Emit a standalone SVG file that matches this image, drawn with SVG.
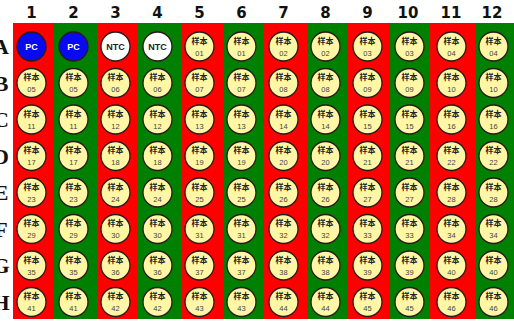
<svg xmlns="http://www.w3.org/2000/svg" width="514" height="323" viewBox="0 0 514 323">
<style>
.hd{font-family:"DejaVu Sans","Liberation Sans",sans-serif;font-weight:bold;font-size:15px;fill:#111;text-anchor:middle}
.rl{font-family:"Liberation Serif",serif;font-weight:bold;font-size:22px;fill:#111;text-anchor:middle}
.r{fill:#ff0000}.g{fill:#008000}
.s{fill:#fff6a6;stroke:#2a1a1a;stroke-width:1.3}
.pc{fill:#0a0af0;stroke:#2a1a1a;stroke-width:1.3}
.nt{fill:#ffffff;stroke:#2a1a1a;stroke-width:1.3}
.a{font-family:"Liberation Sans","Noto Sans CJK SC",sans-serif;font-weight:bold;font-size:8px;fill:#222;text-anchor:middle}
.n{font-family:"Liberation Sans",sans-serif;font-size:7.5px;fill:#444;text-anchor:middle}
.pt{font-family:"Liberation Sans",sans-serif;font-weight:bold;font-size:9px;fill:#fff;text-anchor:middle}
.ntt{font-family:"Liberation Sans",sans-serif;font-weight:bold;font-size:9px;fill:#222;text-anchor:middle}
</style>
<rect width="514" height="323" fill="#ffffff"/>
<g id="headers">
<text class="hd" x="31.5" y="18">1</text><text class="hd" x="73.5" y="18">2</text><text class="hd" x="115.5" y="18">3</text><text class="hd" x="157.5" y="18">4</text><text class="hd" x="199.5" y="18">5</text><text class="hd" x="241.5" y="18">6</text><text class="hd" x="283.5" y="18">7</text><text class="hd" x="325.5" y="18">8</text><text class="hd" x="367.5" y="18">9</text><text class="hd" x="408" y="18">10</text><text class="hd" x="451" y="18">11</text><text class="hd" x="492" y="18">12</text>
</g>
<g id="rowlabels">
<text class="rl" x="1" y="54">A</text><text class="rl" x="1" y="91">B</text><text class="rl" x="1" y="127">C</text><text class="rl" x="1" y="164">D</text><text class="rl" x="1" y="200">E</text><text class="rl" x="1" y="237">F</text><text class="rl" x="1" y="273">G</text><text class="rl" x="1" y="310">H</text>
</g>
<g id="plate">
<rect class="r" x="13" y="23" width="40" height="296"/>
<rect class="g" x="53" y="23" width="44" height="296"/>
<rect class="r" x="97" y="23" width="41" height="296"/>
<rect class="g" x="138" y="23" width="43" height="296"/>
<rect class="r" x="181" y="23" width="42" height="296"/>
<rect class="g" x="223" y="23" width="41" height="296"/>
<rect class="r" x="264" y="23" width="43" height="296"/>
<rect class="g" x="307" y="23" width="41" height="296"/>
<rect class="r" x="348" y="23" width="41" height="296"/>
<rect class="g" x="389" y="23" width="41" height="296"/>
<rect class="r" x="430" y="23" width="45" height="296"/>
<rect class="g" x="475" y="23" width="39" height="296"/>
</g>
<g id="A1" transform="translate(31.5,46.5)"><circle class="pc" r="14.5"/><text class="pt" y="3.2">PC</text></g>
<g id="A2" transform="translate(73.5,46.5)"><circle class="pc" r="14.5"/><text class="pt" y="3.2">PC</text></g>
<g id="A3" transform="translate(115.5,46.5)"><circle class="nt" r="14.5"/><text class="ntt" y="3.2">NTC</text></g>
<g id="A4" transform="translate(157.5,46.5)"><circle class="nt" r="14.5"/><text class="ntt" y="3.2">NTC</text></g>
<g id="A5" transform="translate(199.5,46.5)"><circle class="s" r="14.5"/><text class="a" y="-3">样本</text><text class="n" y="9.3">01</text></g>
<g id="A6" transform="translate(241.5,46.5)"><circle class="s" r="14.5"/><text class="a" y="-3">样本</text><text class="n" y="9.3">01</text></g>
<g id="A7" transform="translate(283.5,46.5)"><circle class="s" r="14.5"/><text class="a" y="-3">样本</text><text class="n" y="9.3">02</text></g>
<g id="A8" transform="translate(325.5,46.5)"><circle class="s" r="14.5"/><text class="a" y="-3">样本</text><text class="n" y="9.3">02</text></g>
<g id="A9" transform="translate(367.5,46.5)"><circle class="s" r="14.5"/><text class="a" y="-3">样本</text><text class="n" y="9.3">03</text></g>
<g id="A10" transform="translate(409.5,46.5)"><circle class="s" r="14.5"/><text class="a" y="-3">样本</text><text class="n" y="9.3">03</text></g>
<g id="A11" transform="translate(451.5,46.5)"><circle class="s" r="14.5"/><text class="a" y="-3">样本</text><text class="n" y="9.3">04</text></g>
<g id="A12" transform="translate(493.5,46.5)"><circle class="s" r="14.5"/><text class="a" y="-3">样本</text><text class="n" y="9.3">04</text></g>
<g id="B1" transform="translate(31.5,83)"><circle class="s" r="14.5"/><text class="a" y="-3">样本</text><text class="n" y="9.3">05</text></g>
<g id="B2" transform="translate(73.5,83)"><circle class="s" r="14.5"/><text class="a" y="-3">样本</text><text class="n" y="9.3">05</text></g>
<g id="B3" transform="translate(115.5,83)"><circle class="s" r="14.5"/><text class="a" y="-3">样本</text><text class="n" y="9.3">06</text></g>
<g id="B4" transform="translate(157.5,83)"><circle class="s" r="14.5"/><text class="a" y="-3">样本</text><text class="n" y="9.3">06</text></g>
<g id="B5" transform="translate(199.5,83)"><circle class="s" r="14.5"/><text class="a" y="-3">样本</text><text class="n" y="9.3">07</text></g>
<g id="B6" transform="translate(241.5,83)"><circle class="s" r="14.5"/><text class="a" y="-3">样本</text><text class="n" y="9.3">07</text></g>
<g id="B7" transform="translate(283.5,83)"><circle class="s" r="14.5"/><text class="a" y="-3">样本</text><text class="n" y="9.3">08</text></g>
<g id="B8" transform="translate(325.5,83)"><circle class="s" r="14.5"/><text class="a" y="-3">样本</text><text class="n" y="9.3">08</text></g>
<g id="B9" transform="translate(367.5,83)"><circle class="s" r="14.5"/><text class="a" y="-3">样本</text><text class="n" y="9.3">09</text></g>
<g id="B10" transform="translate(409.5,83)"><circle class="s" r="14.5"/><text class="a" y="-3">样本</text><text class="n" y="9.3">09</text></g>
<g id="B11" transform="translate(451.5,83)"><circle class="s" r="14.5"/><text class="a" y="-3">样本</text><text class="n" y="9.3">10</text></g>
<g id="B12" transform="translate(493.5,83)"><circle class="s" r="14.5"/><text class="a" y="-3">样本</text><text class="n" y="9.3">10</text></g>
<g id="C1" transform="translate(31.5,119.5)"><circle class="s" r="14.5"/><text class="a" y="-3">样本</text><text class="n" y="9.3">11</text></g>
<g id="C2" transform="translate(73.5,119.5)"><circle class="s" r="14.5"/><text class="a" y="-3">样本</text><text class="n" y="9.3">11</text></g>
<g id="C3" transform="translate(115.5,119.5)"><circle class="s" r="14.5"/><text class="a" y="-3">样本</text><text class="n" y="9.3">12</text></g>
<g id="C4" transform="translate(157.5,119.5)"><circle class="s" r="14.5"/><text class="a" y="-3">样本</text><text class="n" y="9.3">12</text></g>
<g id="C5" transform="translate(199.5,119.5)"><circle class="s" r="14.5"/><text class="a" y="-3">样本</text><text class="n" y="9.3">13</text></g>
<g id="C6" transform="translate(241.5,119.5)"><circle class="s" r="14.5"/><text class="a" y="-3">样本</text><text class="n" y="9.3">13</text></g>
<g id="C7" transform="translate(283.5,119.5)"><circle class="s" r="14.5"/><text class="a" y="-3">样本</text><text class="n" y="9.3">14</text></g>
<g id="C8" transform="translate(325.5,119.5)"><circle class="s" r="14.5"/><text class="a" y="-3">样本</text><text class="n" y="9.3">14</text></g>
<g id="C9" transform="translate(367.5,119.5)"><circle class="s" r="14.5"/><text class="a" y="-3">样本</text><text class="n" y="9.3">15</text></g>
<g id="C10" transform="translate(409.5,119.5)"><circle class="s" r="14.5"/><text class="a" y="-3">样本</text><text class="n" y="9.3">15</text></g>
<g id="C11" transform="translate(451.5,119.5)"><circle class="s" r="14.5"/><text class="a" y="-3">样本</text><text class="n" y="9.3">16</text></g>
<g id="C12" transform="translate(493.5,119.5)"><circle class="s" r="14.5"/><text class="a" y="-3">样本</text><text class="n" y="9.3">16</text></g>
<g id="D1" transform="translate(31.5,156)"><circle class="s" r="14.5"/><text class="a" y="-3">样本</text><text class="n" y="9.3">17</text></g>
<g id="D2" transform="translate(73.5,156)"><circle class="s" r="14.5"/><text class="a" y="-3">样本</text><text class="n" y="9.3">17</text></g>
<g id="D3" transform="translate(115.5,156)"><circle class="s" r="14.5"/><text class="a" y="-3">样本</text><text class="n" y="9.3">18</text></g>
<g id="D4" transform="translate(157.5,156)"><circle class="s" r="14.5"/><text class="a" y="-3">样本</text><text class="n" y="9.3">18</text></g>
<g id="D5" transform="translate(199.5,156)"><circle class="s" r="14.5"/><text class="a" y="-3">样本</text><text class="n" y="9.3">19</text></g>
<g id="D6" transform="translate(241.5,156)"><circle class="s" r="14.5"/><text class="a" y="-3">样本</text><text class="n" y="9.3">19</text></g>
<g id="D7" transform="translate(283.5,156)"><circle class="s" r="14.5"/><text class="a" y="-3">样本</text><text class="n" y="9.3">20</text></g>
<g id="D8" transform="translate(325.5,156)"><circle class="s" r="14.5"/><text class="a" y="-3">样本</text><text class="n" y="9.3">20</text></g>
<g id="D9" transform="translate(367.5,156)"><circle class="s" r="14.5"/><text class="a" y="-3">样本</text><text class="n" y="9.3">21</text></g>
<g id="D10" transform="translate(409.5,156)"><circle class="s" r="14.5"/><text class="a" y="-3">样本</text><text class="n" y="9.3">21</text></g>
<g id="D11" transform="translate(451.5,156)"><circle class="s" r="14.5"/><text class="a" y="-3">样本</text><text class="n" y="9.3">22</text></g>
<g id="D12" transform="translate(493.5,156)"><circle class="s" r="14.5"/><text class="a" y="-3">样本</text><text class="n" y="9.3">22</text></g>
<g id="E1" transform="translate(31.5,192.5)"><circle class="s" r="14.5"/><text class="a" y="-3">样本</text><text class="n" y="9.3">23</text></g>
<g id="E2" transform="translate(73.5,192.5)"><circle class="s" r="14.5"/><text class="a" y="-3">样本</text><text class="n" y="9.3">23</text></g>
<g id="E3" transform="translate(115.5,192.5)"><circle class="s" r="14.5"/><text class="a" y="-3">样本</text><text class="n" y="9.3">24</text></g>
<g id="E4" transform="translate(157.5,192.5)"><circle class="s" r="14.5"/><text class="a" y="-3">样本</text><text class="n" y="9.3">24</text></g>
<g id="E5" transform="translate(199.5,192.5)"><circle class="s" r="14.5"/><text class="a" y="-3">样本</text><text class="n" y="9.3">25</text></g>
<g id="E6" transform="translate(241.5,192.5)"><circle class="s" r="14.5"/><text class="a" y="-3">样本</text><text class="n" y="9.3">25</text></g>
<g id="E7" transform="translate(283.5,192.5)"><circle class="s" r="14.5"/><text class="a" y="-3">样本</text><text class="n" y="9.3">26</text></g>
<g id="E8" transform="translate(325.5,192.5)"><circle class="s" r="14.5"/><text class="a" y="-3">样本</text><text class="n" y="9.3">26</text></g>
<g id="E9" transform="translate(367.5,192.5)"><circle class="s" r="14.5"/><text class="a" y="-3">样本</text><text class="n" y="9.3">27</text></g>
<g id="E10" transform="translate(409.5,192.5)"><circle class="s" r="14.5"/><text class="a" y="-3">样本</text><text class="n" y="9.3">27</text></g>
<g id="E11" transform="translate(451.5,192.5)"><circle class="s" r="14.5"/><text class="a" y="-3">样本</text><text class="n" y="9.3">28</text></g>
<g id="E12" transform="translate(493.5,192.5)"><circle class="s" r="14.5"/><text class="a" y="-3">样本</text><text class="n" y="9.3">28</text></g>
<g id="F1" transform="translate(31.5,229)"><circle class="s" r="14.5"/><text class="a" y="-3">样本</text><text class="n" y="9.3">29</text></g>
<g id="F2" transform="translate(73.5,229)"><circle class="s" r="14.5"/><text class="a" y="-3">样本</text><text class="n" y="9.3">29</text></g>
<g id="F3" transform="translate(115.5,229)"><circle class="s" r="14.5"/><text class="a" y="-3">样本</text><text class="n" y="9.3">30</text></g>
<g id="F4" transform="translate(157.5,229)"><circle class="s" r="14.5"/><text class="a" y="-3">样本</text><text class="n" y="9.3">30</text></g>
<g id="F5" transform="translate(199.5,229)"><circle class="s" r="14.5"/><text class="a" y="-3">样本</text><text class="n" y="9.3">31</text></g>
<g id="F6" transform="translate(241.5,229)"><circle class="s" r="14.5"/><text class="a" y="-3">样本</text><text class="n" y="9.3">31</text></g>
<g id="F7" transform="translate(283.5,229)"><circle class="s" r="14.5"/><text class="a" y="-3">样本</text><text class="n" y="9.3">32</text></g>
<g id="F8" transform="translate(325.5,229)"><circle class="s" r="14.5"/><text class="a" y="-3">样本</text><text class="n" y="9.3">32</text></g>
<g id="F9" transform="translate(367.5,229)"><circle class="s" r="14.5"/><text class="a" y="-3">样本</text><text class="n" y="9.3">33</text></g>
<g id="F10" transform="translate(409.5,229)"><circle class="s" r="14.5"/><text class="a" y="-3">样本</text><text class="n" y="9.3">33</text></g>
<g id="F11" transform="translate(451.5,229)"><circle class="s" r="14.5"/><text class="a" y="-3">样本</text><text class="n" y="9.3">34</text></g>
<g id="F12" transform="translate(493.5,229)"><circle class="s" r="14.5"/><text class="a" y="-3">样本</text><text class="n" y="9.3">34</text></g>
<g id="G1" transform="translate(31.5,265.5)"><circle class="s" r="14.5"/><text class="a" y="-3">样本</text><text class="n" y="9.3">35</text></g>
<g id="G2" transform="translate(73.5,265.5)"><circle class="s" r="14.5"/><text class="a" y="-3">样本</text><text class="n" y="9.3">35</text></g>
<g id="G3" transform="translate(115.5,265.5)"><circle class="s" r="14.5"/><text class="a" y="-3">样本</text><text class="n" y="9.3">36</text></g>
<g id="G4" transform="translate(157.5,265.5)"><circle class="s" r="14.5"/><text class="a" y="-3">样本</text><text class="n" y="9.3">36</text></g>
<g id="G5" transform="translate(199.5,265.5)"><circle class="s" r="14.5"/><text class="a" y="-3">样本</text><text class="n" y="9.3">37</text></g>
<g id="G6" transform="translate(241.5,265.5)"><circle class="s" r="14.5"/><text class="a" y="-3">样本</text><text class="n" y="9.3">37</text></g>
<g id="G7" transform="translate(283.5,265.5)"><circle class="s" r="14.5"/><text class="a" y="-3">样本</text><text class="n" y="9.3">38</text></g>
<g id="G8" transform="translate(325.5,265.5)"><circle class="s" r="14.5"/><text class="a" y="-3">样本</text><text class="n" y="9.3">38</text></g>
<g id="G9" transform="translate(367.5,265.5)"><circle class="s" r="14.5"/><text class="a" y="-3">样本</text><text class="n" y="9.3">39</text></g>
<g id="G10" transform="translate(409.5,265.5)"><circle class="s" r="14.5"/><text class="a" y="-3">样本</text><text class="n" y="9.3">39</text></g>
<g id="G11" transform="translate(451.5,265.5)"><circle class="s" r="14.5"/><text class="a" y="-3">样本</text><text class="n" y="9.3">40</text></g>
<g id="G12" transform="translate(493.5,265.5)"><circle class="s" r="14.5"/><text class="a" y="-3">样本</text><text class="n" y="9.3">40</text></g>
<g id="H1" transform="translate(31.5,302)"><circle class="s" r="14.5"/><text class="a" y="-3">样本</text><text class="n" y="9.3">41</text></g>
<g id="H2" transform="translate(73.5,302)"><circle class="s" r="14.5"/><text class="a" y="-3">样本</text><text class="n" y="9.3">41</text></g>
<g id="H3" transform="translate(115.5,302)"><circle class="s" r="14.5"/><text class="a" y="-3">样本</text><text class="n" y="9.3">42</text></g>
<g id="H4" transform="translate(157.5,302)"><circle class="s" r="14.5"/><text class="a" y="-3">样本</text><text class="n" y="9.3">42</text></g>
<g id="H5" transform="translate(199.5,302)"><circle class="s" r="14.5"/><text class="a" y="-3">样本</text><text class="n" y="9.3">43</text></g>
<g id="H6" transform="translate(241.5,302)"><circle class="s" r="14.5"/><text class="a" y="-3">样本</text><text class="n" y="9.3">43</text></g>
<g id="H7" transform="translate(283.5,302)"><circle class="s" r="14.5"/><text class="a" y="-3">样本</text><text class="n" y="9.3">44</text></g>
<g id="H8" transform="translate(325.5,302)"><circle class="s" r="14.5"/><text class="a" y="-3">样本</text><text class="n" y="9.3">44</text></g>
<g id="H9" transform="translate(367.5,302)"><circle class="s" r="14.5"/><text class="a" y="-3">样本</text><text class="n" y="9.3">45</text></g>
<g id="H10" transform="translate(409.5,302)"><circle class="s" r="14.5"/><text class="a" y="-3">样本</text><text class="n" y="9.3">45</text></g>
<g id="H11" transform="translate(451.5,302)"><circle class="s" r="14.5"/><text class="a" y="-3">样本</text><text class="n" y="9.3">46</text></g>
<g id="H12" transform="translate(493.5,302)"><circle class="s" r="14.5"/><text class="a" y="-3">样本</text><text class="n" y="9.3">46</text></g>
<g id="connectors"/>
</svg>
